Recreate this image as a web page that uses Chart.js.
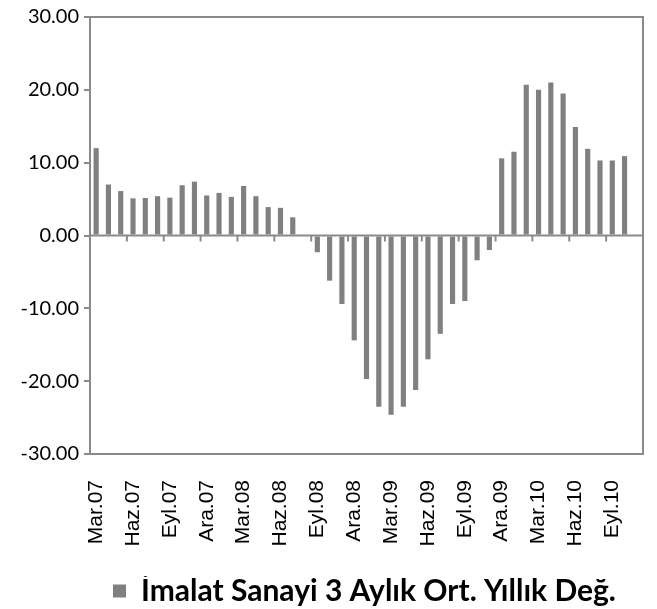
<!DOCTYPE html>
<html>
<head>
<meta charset="utf-8">
<script src="https://cdn.jsdelivr.net/npm/chart.js@4"></script>
<style>
  html, body { margin: 0; padding: 0; background: #fff; }
  #wrap { width: 657px; height: 609px; }
</style>
</head>
<body>
<div id="wrap"><canvas id="myChart" width="657" height="609"></canvas></div>
<script>
// aylar (Mar.07 - Kas.10)
const categories = [
  'Mar.07', 'Nis.07', 'May.07', 'Haz.07', 'Tem.07', 'Ağu.07', 'Eyl.07', 'Eki.07', 'Kas.07', 'Ara.07',
  'Oca.08', 'Şub.08', 'Mar.08', 'Nis.08', 'May.08', 'Haz.08', 'Tem.08', 'Ağu.08', 'Eyl.08', 'Eki.08', 'Kas.08', 'Ara.08',
  'Oca.09', 'Şub.09', 'Mar.09', 'Nis.09', 'May.09', 'Haz.09', 'Tem.09', 'Ağu.09', 'Eyl.09', 'Eki.09', 'Kas.09', 'Ara.09',
  'Oca.10', 'Şub.10', 'Mar.10', 'Nis.10', 'May.10', 'Haz.10', 'Tem.10', 'Ağu.10', 'Eyl.10', 'Eki.10', 'Kas.10'
];

// İmalat Sanayi 3 aylık ort. yıllık değişim
const imalat = [
  12.0, 7.0, 6.1, 5.1, 5.15, 5.4, 5.2, 6.9, 7.4, 5.5,
  5.85, 5.3, 6.8, 5.4, 3.9, 3.8, 2.5, 0, -2.3, -6.2, -9.4, -14.4,
  -19.7, -23.5, -24.6, -23.5, -21.2, -17.0, -13.5, -9.4, -9.0, -3.4, -2.0, 10.6,
  11.5, 20.7, 20.0, 21.0, 19.5, 14.9, 11.9, 10.3, 10.3, 10.9, null
];

const yTicks = [-30, -20, -10, 0, 10, 20, 30];
const seriesName = 'İmalat Sanayi 3 Aylık Ort. Yıllık Değ.';

const axisGray = '#8a8a8a';

// çerçeve, sıfır çizgisi ve 3 ayda bir tik
const framePlugin = {
  id: 'frame',
  afterLayout(chart) {
    // lejantı biraz sağa kaydır
    chart.legend.left += 43;
    chart.legend.right += 43;
  },
  afterDatasetsDraw(chart) {
    const ctx = chart.ctx;
    const a = chart.chartArea;
    const x = chart.scales.x;
    const y = chart.scales.y;
    ctx.save();
    ctx.strokeStyle = axisGray;
    ctx.lineWidth = 2;
    ctx.strokeRect(a.left, a.top, a.right - a.left, a.bottom - a.top);
    const y0 = y.getPixelForValue(0);
    ctx.beginPath();
    ctx.moveTo(a.left, y0);
    ctx.lineTo(a.right, y0);
    for (let i = 3; i < categories.length; i += 3) {
      const px = (x.getPixelForValue(i - 1) + x.getPixelForValue(i)) / 2;
      ctx.moveTo(px, y0);
      ctx.lineTo(px, y0 + 6);
    }
    ctx.stroke();
    ctx.restore();
  }
};

const ctx = document.getElementById('myChart').getContext('2d');
const myChart = new Chart(ctx, {
  type: 'bar',
  data: {
    labels: categories,
    datasets: [{
      label: seriesName,
      data: imalat,
      backgroundColor: '#808080',
      borderWidth: 0,
      barPercentage: 0.42,
      categoryPercentage: 1.0
    }]
  },
  options: {
    responsive: false,
    animation: false,
    layout: { padding: { top: 16, right: 14, left: 0, bottom: -7 } },
    scales: {
      x: {
        grid: { display: false, drawTicks: false },
        border: { display: false },
        ticks: {
          autoSkip: false,
          maxRotation: 90,
          minRotation: 90,
          padding: 26,
          color: '#000',
          font: { family: 'Liberation Sans', size: 21 },
          callback: function (value, index) {
            return index % 3 === 0 ? categories[index] : '';
          }
        },
        afterFit: function (scale) {
          scale.height = 122;
          scale.paddingLeft = 0;
          scale.paddingRight = 0;
        }
      },
      y: {
        min: -30,
        max: 30,
        afterBuildTicks: function (scale) {
          scale.ticks = yTicks.map(v => ({ value: v }));
        },
        grid: {
          drawOnChartArea: false,
          drawTicks: true,
          tickLength: 6,
          color: axisGray,
          lineWidth: 2
        },
        border: { display: false },
        ticks: {
          padding: 5,
          color: '#000',
          font: { family: 'Lato', size: 20 },
          callback: function (value) { return Number(value).toFixed(2); }
        },
        afterFit: function (scale) { scale.width = 90; }
      }
    },
    plugins: {
      legend: {
        display: true,
        position: 'bottom',
        labels: {
          boxWidth: 13,
          boxHeight: 13,
          padding: 0,
          color: '#000',
          font: { family: 'Lato', size: 30, weight: 'bold' }
        }
      },
      tooltip: { enabled: false }
    }
  },
  plugins: [framePlugin]
});
</script>
</body>
</html>
